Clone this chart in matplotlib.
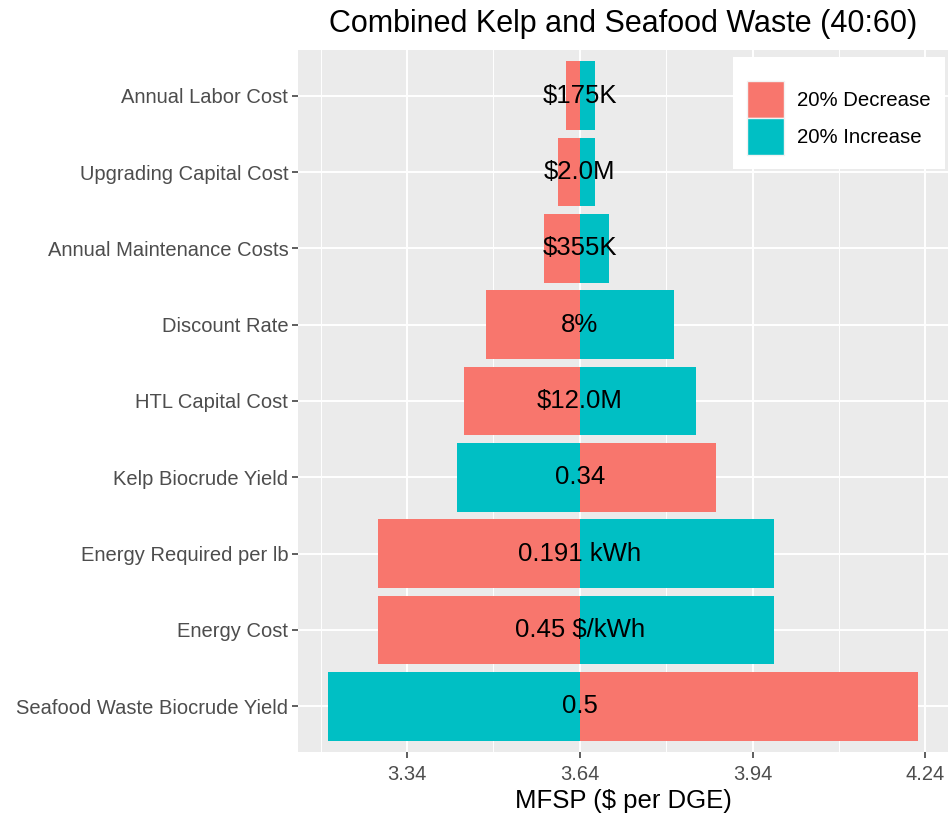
import numpy as np
import matplotlib.pyplot as plt
from matplotlib.patches import Patch

plt.rcParams['font.family'] = ['Liberation Sans', 'DejaVu Sans']

# bottom to top, as drawn
params = ["Seafood Waste Biocrude Yield", "Energy Cost", "Energy Required per lb",
          "Kelp Biocrude Yield", "HTL Capital Cost", "Discount Rate",
          "Annual Maintenance Costs", "Upgrading Capital Cost", "Annual Labor Cost"]
base_labels = ["0.5", "0.45 $/kWh", "0.191 kWh", "0.34", "$12.0M", "8%",
               "$355K", "$2.0M", "$175K"]
base_mfsp = 3.64
mfsp_decrease = [4.228, 3.289, 3.289, 3.877, 3.439, 3.477, 3.578, 3.602, 3.616]
mfsp_increase = [3.202, 3.977, 3.977, 3.427, 3.841, 3.803, 3.690, 3.666, 3.666]
xticks = [3.34, 3.64, 3.94, 4.24]

red = "#F8766D"
teal = "#00BFC4"

fig = plt.figure(figsize=(9.49, 8.13), dpi=100)
ax = fig.add_axes([298 / 949, 1 - 752 / 813, 650 / 949, 702 / 813])
ax.set_facecolor("#EBEBEB")

y = np.arange(len(params))
dec = np.array(mfsp_decrease) - base_mfsp
inc = np.array(mfsp_increase) - base_mfsp
ax.barh(y, dec, left=base_mfsp, height=0.9, color=red, zorder=3)
ax.barh(y, inc, left=base_mfsp, height=0.9, color=teal, zorder=3)

for yi, lab in zip(y, base_labels):
    ax.text(base_mfsp, yi, lab, ha="center", va="center", fontsize=18.5,
            color="black", zorder=4)

lo = min(min(mfsp_decrease), min(mfsp_increase))
hi = max(max(mfsp_decrease), max(mfsp_increase))
pad = (hi - lo) * 0.05
ax.set_xlim(lo - pad, hi + pad)
ax.set_ylim(-0.6, len(params) - 0.4)

ax.set_xticks(xticks)
ax.set_xticklabels([f"{t:.2f}" for t in xticks])
ax.set_xticks([t - 0.15 for t in xticks], minor=True)
ax.set_yticks(y)
ax.set_yticklabels(params)
ax.tick_params(axis="both", which="major", labelsize=14.5, labelcolor="#4D4D4D",
               color="#333333", length=4, width=1.1, pad=3)
ax.tick_params(axis="x", which="major", pad=5)
ax.tick_params(axis="x", which="minor", length=0)
ax.grid(True, which="major", color="white", linewidth=1.4, zorder=0)
ax.grid(True, which="minor", axis="x", color="white", linewidth=0.7, zorder=0)
for s in ax.spines.values():
    s.set_visible(False)

ax.set_xlabel("MFSP ($ per DGE)", fontsize=18.5, labelpad=4)
ax.set_title("Combined Kelp and Seafood Waste (40:60)", fontsize=22, pad=13)

handles = [Patch(facecolor=red, edgecolor="#F2F2F2", label="20% Decrease"),
           Patch(facecolor=teal, edgecolor="#F2F2F2", label="20% Increase")]
leg = ax.legend(handles=handles, loc="upper right", bbox_to_anchor=(0.995, 0.99),
                fontsize=14.7, frameon=True, fancybox=False, framealpha=1,
                edgecolor="white", handlelength=1.8, handleheight=2.42,
                labelspacing=0.0, borderpad=0.68, handletextpad=0.65,
                borderaxespad=0, title=" ", title_fontsize=7)
leg.get_frame().set_linewidth(0)

fig.savefig("out.png", dpi=100)
